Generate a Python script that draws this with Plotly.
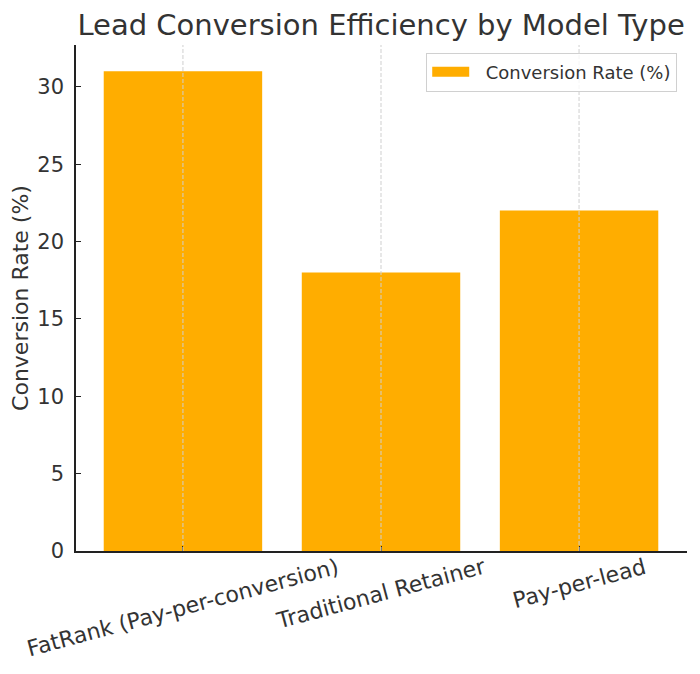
import plotly.graph_objects as go

categories = ["FatRank (Pay-per-conversion)", "Traditional Retainer", "Pay-per-lead"]
conversion_rate = [31, 18, 22]
y_ticks = [0, 5, 10, 15, 20, 25, 30]
series_name = "Conversion Rate (%)"

BAR = "#FFAD00"
TXT = "#333333"
FONT = "DejaVu Sans"

x_idx = list(range(len(categories)))

fig = go.Figure()
fig.add_trace(go.Bar(
    x=x_idx, y=conversion_rate, width=0.8,
    marker=dict(color=BAR, line=dict(width=0)),
    name=series_name, showlegend=False,
))
# legend proxy: wide rectangle patch like matplotlib
fig.add_trace(go.Scatter(
    x=[None], y=[None], mode="lines", name="\u00a0\u00a0" + series_name,
    line=dict(color=BAR, width=12), showlegend=True,
))

# dashed vertical gridlines above bars
for i in x_idx:
    fig.add_shape(type="line", xref="x", yref="paper", x0=i, x1=i, y0=0, y1=1,
                  line=dict(color="#cfcfcf", width=1, dash="4px,2px"), layer="above")

# rotated tick labels, center-anchored like matplotlib
for i, c in zip(x_idx, categories):
    fig.add_annotation(x=i, y=0, xref="x", yref="paper", text=c, showarrow=False,
                       textangle=-15, xanchor="center", yanchor="top", yshift=0,
                       font=dict(family=FONT, size=22, color=TXT))

# page body has an 8px offset: compensate margins
fig.update_layout(
    width=700, height=674,
    margin=dict(l=68, r=21, t=37, b=131),
    paper_bgcolor="white", plot_bgcolor="white",
    font=dict(family=FONT, color=TXT),
    title=dict(text="Lead Conversion Efficiency by Model Type", x=0.533, xanchor="center",
               y=0.975, yanchor="middle", font=dict(family=FONT, size=29, color=TXT)),
    legend=dict(x=0.984, y=0.985, xanchor="right", yanchor="top", itemwidth=37,
                bgcolor="rgba(255,255,255,0.8)", bordercolor="#d0d0d0", borderwidth=1,
                font=dict(family=FONT, size=18, color=TXT)),
)
fig.update_xaxes(range=[-0.54, 2.545], tickmode="array", tickvals=x_idx, ticktext=[""] * 3,
                 showgrid=False, showline=True, linecolor="#222222", linewidth=1.5,
                 ticks="inside", ticklen=5, tickcolor="#222222", zeroline=False,
                 automargin=False)
fig.update_yaxes(range=[0, 32.7], tickmode="array", tickvals=y_ticks,
                 showgrid=False, showline=True, linecolor="#222222", linewidth=1.5,
                 ticks="inside", ticklen=5, tickcolor="#222222", zeroline=False,
                 automargin=False, ticklabelstandoff=6,
                 tickfont=dict(family=FONT, size=21, color=TXT),
                 title=dict(text=series_name, font=dict(family=FONT, size=22, color=TXT), standoff=8))

fig.write_html("out.html")
